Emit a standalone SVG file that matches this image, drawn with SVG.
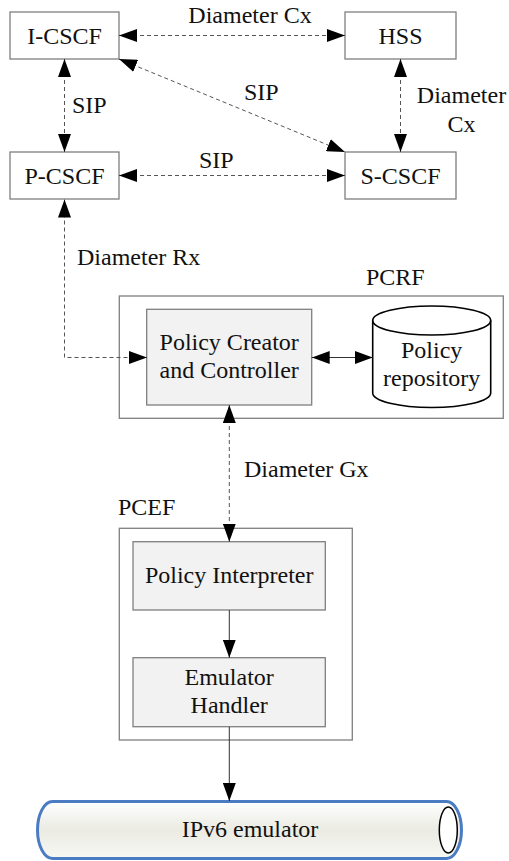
<svg xmlns="http://www.w3.org/2000/svg" width="509" height="861" viewBox="0 0 509 861">
<style>
  .box { fill: #ffffff; stroke: #7f7f7f; stroke-width: 1.3; }
  .inner { fill: #f2f2f2; stroke: #7f7f7f; stroke-width: 1.3; }
  .t { font-family: "Liberation Serif", "Times New Roman", "DejaVu Serif", serif; font-size: 24px; fill: #111111; }
  .c { text-anchor: middle; }
  .dash { fill: none; stroke: #555555; stroke-width: 1; stroke-dasharray: 4 3; }
  .solid { fill: none; stroke: #333333; stroke-width: 1; }
</style>
<defs>
  <marker id="ah" viewBox="0 0 18 13" markerWidth="18" markerHeight="13" refX="18" refY="6.5" orient="auto-start-reverse" markerUnits="userSpaceOnUse">
    <path d="M0,0 L18,6.5 L0,13 z" fill="#000000"/>
  </marker>
  <linearGradient id="tubeGrad" x1="0" y1="0" x2="0" y2="1">
    <stop offset="0" stop-color="#ffffff"/>
    <stop offset="0.5" stop-color="#ebebe3"/>
    <stop offset="1" stop-color="#f8f8f4"/>
  </linearGradient>
</defs>

<g id="I-CSCF">
  <rect class="box" x="10" y="12" width="109" height="47"/>
  <text class="t c" x="64.5" y="43.5" font-family="Liberation Serif, serif">I-CSCF</text>
</g>
<g id="HSS">
  <rect class="box" x="345" y="12" width="111" height="47"/>
  <text class="t c" x="400.5" y="43.5">HSS</text>
</g>
<g id="P-CSCF">
  <rect class="box" x="10" y="152" width="109" height="47"/>
  <text class="t c" x="64.5" y="183.5">P-CSCF</text>
</g>
<g id="S-CSCF">
  <rect class="box" x="345" y="152" width="111" height="47"/>
  <text class="t c" x="400.5" y="183.5">S-CSCF</text>
</g>

<g id="PCRF">
  <rect class="box" x="119.3" y="296" width="384" height="122.3"/>
  <text class="t" x="366" y="285">PCRF</text>
</g>
<g id="policy-creator">
  <rect class="inner" x="146.7" y="309.3" width="165" height="95.7"/>
  <text class="t c" x="229.2" y="350">Policy Creator</text>
  <text class="t c" x="229.2" y="378">and Controller</text>
</g>
<g id="policy-repository">
  <path d="M372.7,320.5 L372.7,393 A59,14.5 0 0 0 490.7,393 L490.7,320.5 A59,14.5 0 0 0 372.7,320.5 Z" fill="#ffffff" stroke="#000000" stroke-width="1.6"/>
  <path d="M372.7,320.5 A59,14.5 0 0 0 490.7,320.5" fill="none" stroke="#000000" stroke-width="1.6"/>
  <text class="t c" x="431.7" y="358">Policy</text>
  <text class="t c" x="431.7" y="386">repository</text>
</g>

<g id="PCEF">
  <rect class="box" x="119.3" y="528.3" width="233" height="211.7"/>
  <text class="t" x="118" y="515">PCEF</text>
</g>
<g id="policy-interpreter">
  <rect class="inner" x="133" y="541.7" width="192.3" height="68.3"/>
  <text class="t c" x="229.2" y="583">Policy Interpreter</text>
</g>
<g id="emulator-handler">
  <rect class="inner" x="133" y="657.7" width="192.3" height="69"/>
  <text class="t c" x="229.2" y="685">Emulator</text>
  <text class="t c" x="229.2" y="713">Handler</text>
</g>

<g id="ipv6-emulator">
  <rect x="37.5" y="801.5" width="424" height="57" rx="15" ry="28.5" fill="url(#tubeGrad)" stroke="#4a7cc4" stroke-width="3"/>
  <ellipse cx="448.3" cy="830" rx="9" ry="23" fill="#ffffff" stroke="#000000" stroke-width="1.5"/>
  <text class="t c" x="250" y="837">IPv6 emulator</text>
</g>

<g id="connectors">
  <line class="dash" x1="119" y1="35.5" x2="345" y2="35.5" marker-start="url(#ah)" marker-end="url(#ah)"/>
  <line class="dash" x1="64.5" y1="59" x2="64.5" y2="152" marker-start="url(#ah)" marker-end="url(#ah)"/>
  <line class="dash" x1="400.5" y1="59" x2="400.5" y2="152" marker-start="url(#ah)" marker-end="url(#ah)"/>
  <line class="dash" x1="119" y1="59" x2="345" y2="152" marker-start="url(#ah)" marker-end="url(#ah)"/>
  <line class="dash" x1="119" y1="175.5" x2="345" y2="175.5" marker-start="url(#ah)" marker-end="url(#ah)"/>
  <path class="dash" d="M64.5,199.5 L64.5,357.5 L147,357.5" marker-start="url(#ah)" marker-end="url(#ah)"/>
  <line class="solid" x1="311.7" y1="357.5" x2="372.7" y2="357.5" marker-start="url(#ah)" marker-end="url(#ah)"/>
  <line class="dash" x1="229.3" y1="405" x2="229.3" y2="541.7" marker-start="url(#ah)" marker-end="url(#ah)"/>
  <line class="solid" x1="229.3" y1="610" x2="229.3" y2="657.7" marker-end="url(#ah)"/>
  <line class="solid" x1="229.3" y1="726.7" x2="229.3" y2="801" marker-end="url(#ah)"/>
</g>

<g id="labels">
  <text class="t c" x="250" y="23">Diameter Cx</text>
  <text class="t" x="244" y="100">SIP</text>
  <text class="t" x="72" y="113">SIP</text>
  <text class="t c" x="461.5" y="103">Diameter</text>
  <text class="t c" x="461.5" y="132">Cx</text>
  <text class="t" x="199" y="168">SIP</text>
  <text class="t" x="77" y="265">Diameter Rx</text>
  <text class="t" x="244" y="477">Diameter Gx</text>
</g>
</svg>
